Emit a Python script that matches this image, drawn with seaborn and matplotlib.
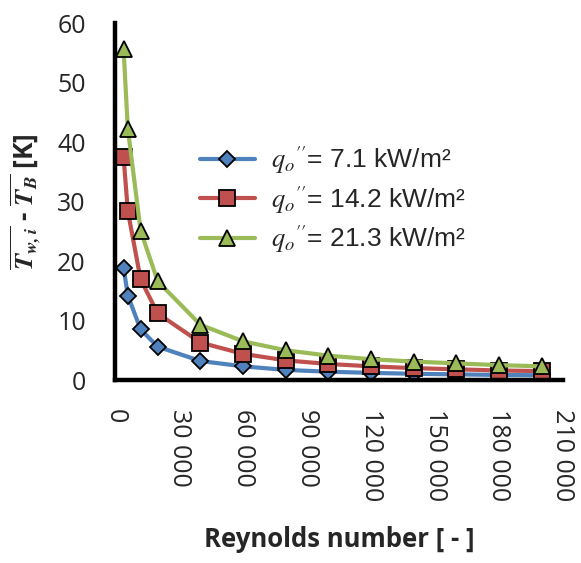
import numpy as np
import pandas as pd
import seaborn as sns
import matplotlib
matplotlib.use("Agg")
import matplotlib.pyplot as plt
from matplotlib.ticker import FuncFormatter

reynolds = [4000, 6000, 12000, 20000, 40000, 60000, 80000, 100000, 120000, 140000, 160000, 180000, 200000]
dt_71 = [18.9, 14.2, 8.5, 5.6, 3.2, 2.3, 1.7, 1.4, 1.2, 1.05, 0.95, 0.85, 0.8]
dt_142 = [37.5, 28.4, 16.9, 11.2, 6.3, 4.4, 3.3, 2.7, 2.3, 2.0, 1.8, 1.6, 1.5]
dt_213 = [55.6, 42.2, 25.1, 16.6, 9.3, 6.5, 5.0, 4.1, 3.5, 3.1, 2.8, 2.5, 2.3]
labels = [r"$q_o$$''$= 7.1 kW/m²", r"$q_o$$''$= 14.2 kW/m²", r"$q_o$$''$= 21.3 kW/m²"]
colors = ["#4F81BD", "#C0504D", "#9BBB59"]
markers = ["D", "s", "^"]
msizes = [8.5, 11, 11]

sns.set_style("white")
plt.rcParams["font.family"] = ["Open Sans", "DejaVu Sans"]
plt.rcParams["mathtext.fontset"] = "stix"

df = pd.concat([
    pd.DataFrame({"Re": reynolds, "dT": v, "series": lab})
    for v, lab in zip([dt_71, dt_142, dt_213], labels)
])

fig = plt.figure(figsize=(5.81, 5.63), dpi=100)
ax = fig.add_axes([0.198, 0.325, 0.771, 0.634])

for lab, c, m, ms in zip(labels, colors, markers, msizes):
    sub = df[df["series"] == lab]
    sns.lineplot(data=sub, x="Re", y="dT", ax=ax, color=c, lw=3,
                 marker=m, markersize=ms, markeredgecolor="black",
                 markeredgewidth=1.3, label=lab)

ax.set_xlim(0, 210000)
ax.set_ylim(0, 60)
ax.set_xticks(np.arange(0, 210001, 30000))
ax.set_yticks(np.arange(0, 61, 10))
ax.xaxis.set_major_formatter(FuncFormatter(lambda v, p: f"{int(v):,}".replace(",", " ")))
ax.tick_params(axis="both", length=7, width=3, direction="out", color="black")
ax.tick_params(axis="y", labelsize=18, pad=14)
ax.tick_params(axis="x", labelsize=18, pad=14)
for lbl in ax.get_xticklabels():
    lbl.set_rotation(270)
    lbl.set_va("top")
    lbl.set_ha("center")
for side in ["top", "right"]:
    ax.spines[side].set_visible(False)
for side in ["left", "bottom"]:
    ax.spines[side].set_linewidth(3.2)
    ax.spines[side].set_color("black")

ax.set_xlabel("Reynolds number [ - ]", fontsize=18.5, fontweight="bold", labelpad=18)
ax.set_ylabel(r"$\overline{\mathbfit{T_{w,i}}}$ - $\overline{\mathbfit{T_B}}$ [K]", fontsize=19,
              fontweight="bold", labelpad=10)

leg = ax.legend(loc="upper left", bbox_to_anchor=(0.165, 0.69), frameon=False,
                prop={"family": "Liberation Sans", "size": 19},
                handlelength=2.1, handletextpad=0.6, labelspacing=0.3,
                borderaxespad=0)

fig.savefig("out.png", dpi=100)
